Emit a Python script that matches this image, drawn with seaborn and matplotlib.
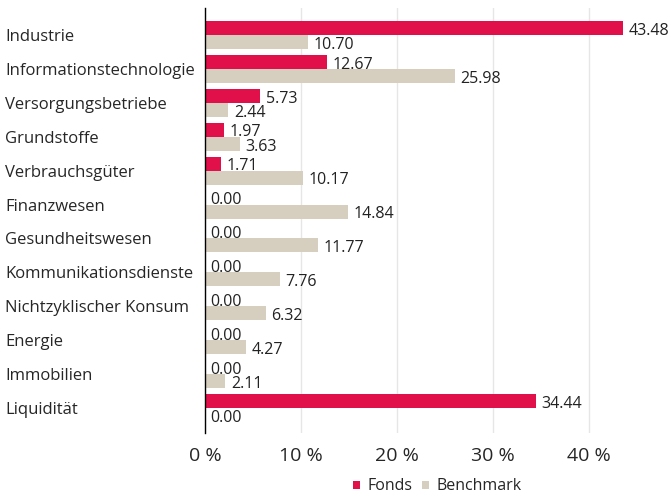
import pandas as pd
import seaborn as sns
import matplotlib.pyplot as plt
from matplotlib.ticker import FuncFormatter

# sector weights (in %)
sectors = ['Industrie', 'Informationstechnologie', 'Versorgungsbetriebe',
           'Grundstoffe', 'Verbrauchsgüter', 'Finanzwesen',
           'Gesundheitswesen', 'Kommunikationsdienste',
           'Nichtzyklischer Konsum', 'Energie', 'Immobilien', 'Liquidität']
fonds = [43.48, 12.67, 5.73, 1.97, 1.71, 0.00, 0.00, 0.00, 0.00, 0.00, 0.00, 34.44]
benchmark = [10.70, 25.98, 2.44, 3.63, 10.17, 14.84, 11.77, 7.76, 6.32, 4.27, 2.11, 0.00]
series = ['Fonds', 'Benchmark']
colors = ['#E2104A', '#D6CFBF']

df = pd.DataFrame({'sector': sectors * 2,
                   'value': fonds + benchmark,
                   'series': ['Fonds'] * len(sectors) + ['Benchmark'] * len(sectors)})

sns.set_style('white')
plt.rcParams['font.family'] = ['Open Sans', 'DejaVu Sans']

fig = plt.figure(figsize=(6.7, 4.98), dpi=100)
ax = fig.add_axes([0.306, 0.13, 0.694, 0.854])

sns.barplot(data=df, y='sector', x='value', hue='series', hue_order=series,
            palette=colors, orient='h', width=0.83, saturation=1,
            edgecolor='none', ax=ax)

# value labels next to each bar, nudged a bit down
for cont in ax.containers:
    for t in ax.bar_label(cont, fmt='%.2f', padding=4, fontsize=11.5, color='#222222'):
        t.xyann = (4, -2)

ax.set_xlim(0, 48.4)
ax.set_ylim(11.75, -0.8)
ax.set_xticks([0, 10, 20, 30, 40])
ax.xaxis.set_major_formatter(FuncFormatter(lambda v, p: f'{v:.0f} %'))
ax.tick_params(axis='x', labelsize=14, pad=10, length=0)
ax.tick_params(axis='y', labelsize=12, pad=0, length=0)
# left-align category labels at the figure edge
for lbl in ax.get_yticklabels():
    lbl.set_horizontalalignment('left')
    lbl.set_x(-0.43)
ax.set_xlabel('')
ax.set_ylabel('')
ax.grid(axis='x', color='#E6E6E6', linewidth=1)
ax.set_axisbelow(True)
for s in ['top', 'right', 'bottom']:
    ax.spines[s].set_visible(False)
ax.spines['left'].set_color('black')
ax.spines['left'].set_linewidth(1)

ax.legend(loc='upper center', bbox_to_anchor=(0.5, -0.072), ncol=2,
          frameon=False, fontsize=11.5, handlelength=0.4, handleheight=0.4,
          handletextpad=0.5, columnspacing=0.6)

fig.savefig('out.png', dpi=100)
